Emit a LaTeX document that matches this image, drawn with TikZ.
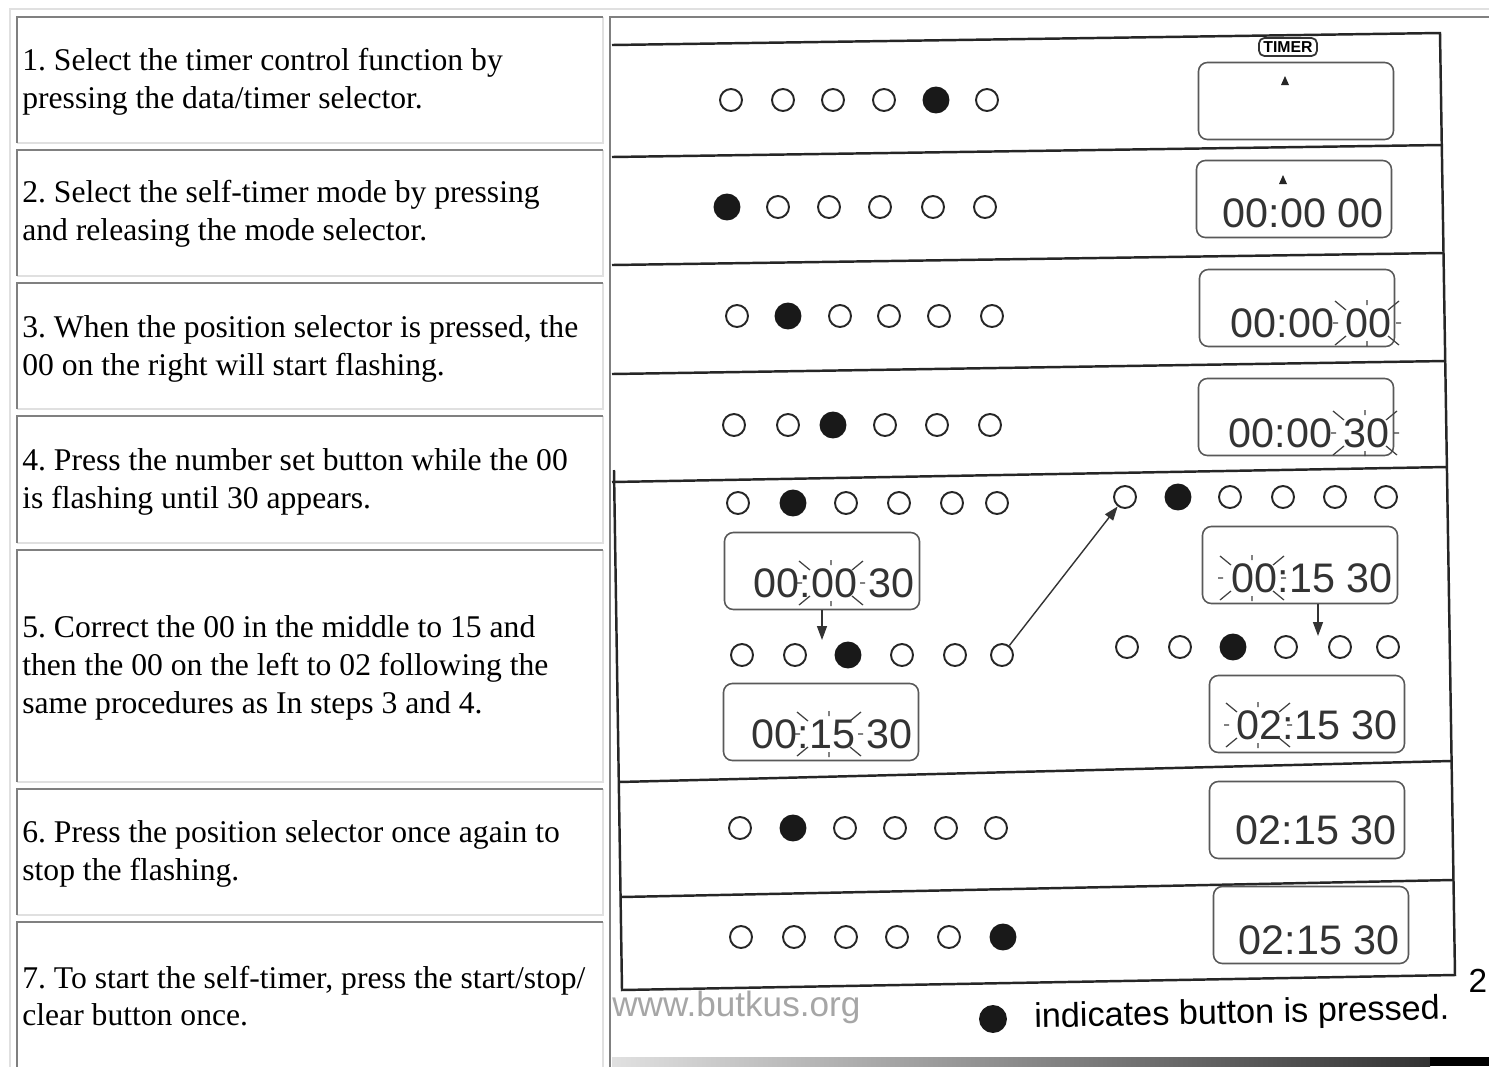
\documentclass[tikz,border=0pt]{standalone}
\usepackage{fontspec}
\setmainfont{Liberation Serif}
\newfontfamily\arialfont{Liberation Sans}
\usetikzlibrary{arrows.meta,positioning}
\frenchspacing

% html table cell: x1,y1,x2,y2 (pixel grid, y down)
\newcommand\htmlcell[4]{%
  \draw[celllo] (#1,#4) -- (#3,#4) -- (#3,#2);
  \draw[cellhi] (#1,#4) -- (#1,#2) -- (#3,#2);}

\tikzset{
  cellhi/.style={draw=black!50, line width=1.1pt},
  celllo/.style={draw=black!12, line width=1.1pt},
  steptext/.style={anchor=west, inner sep=0pt, align=left,
    font=\fontsize{18}{21.5}\selectfont},
  band/.style={line width=1.4pt, draw=black!85},
  btnoff/.style={circle, draw=black!85, line width=1.1pt, fill=white,
    minimum size=0.44cm, inner sep=0pt},
  btnon/.style={circle, draw=black!90, line width=1.1pt, fill=black!90,
    minimum size=0.5cm, inner sep=0pt},
  lcd/.style={draw=black!65, line width=0.9pt, rounded corners=5pt,
    minimum width=3.9cm, minimum height=1.54cm, inner sep=0pt},
  lcdtag/.style={draw=black!80, line width=1pt, rounded corners=3pt,
    inner xsep=2.5pt, inner ysep=2pt, font=\arialfont\bfseries\fontsize{9}{9}\selectfont},
  digits/.style={anchor=east, inner sep=0pt, text=black!80,
    font=\arialfont\fontsize{23.5}{24}\selectfont},
  ray/.style={line width=0.7pt, draw=black!75},
  arr/.style={line width=0.8pt, draw=black!80, -{Triangle[length=0.28cm,width=0.2cm]}},
  flash/.pic={
    \draw[ray] (-32,-22) -- (-21,-13) (32,-22) -- (21,-13)
               (-32,22) -- (-21,13) (32,22) -- (21,13)
               (0,-23) -- (0,-18) (0,18) -- (0,23)
               (-34,0) -- (-29,0) (29,0) -- (34,0);
  }
}

\begin{document}
\begin{tikzpicture}[x=0.02cm, y=-0.02cm]
\useasboundingbox (0,0) rectangle (1489,1066);
\fill[white] (0,0) rectangle (1489,1066);

% table frame and cells
\draw[celllo, line width=1.6pt] (10,1070) -- (10,9) -- (1495,9);
\htmlcell{17}{17}{603}{143}
\htmlcell{17}{150}{603}{276}
\htmlcell{17}{283}{603}{409}
\htmlcell{17}{416}{603}{543}
\htmlcell{17}{550}{603}{782}
\htmlcell{17}{789}{603}{915}
\htmlcell{17}{922}{603}{1075}
\htmlcell{610}{17}{1495}{1075}

% steps
\node[steptext] (step1) at (22,82) {1. Select the timer control function by\\pressing the data/timer selector.};
\node[steptext] (step2) at (22,214) {2. Select the self-timer mode by pressing\\and releasing the mode selector.};
\node[steptext] (step3) at (22,349) {3. When the position selector is pressed, the\\00 on the right will start flashing.};
\node[steptext] (step4) at (22,482) {4. Press the number set button while the 00\\is flashing until 30 appears.};
\node[steptext] (step5) at (22,668) {5. Correct the 00 in the middle to 15 and\\then the 00 on the left to 02 following the\\same procedures as In steps 3 and 4.};
\node[steptext] (step6) at (22,854) {6. Press the position selector once again to\\stop the flashing.};
\node[steptext] (step7) at (22,996) {7. To start the self-timer, press the start/stop/\\clear button once.};

% scanned sheet: frame and bands
\draw[band] (612,45) -- (1440,33) -- (1455,975) -- (622,990) -- (614,470);
\draw[band] (612,157) -- (1442,145);
\draw[band] (612,265) -- (1444,253);
\draw[band] (612,374) -- (1446,361);
\draw[band] (612,482) -- (1447,467);
\draw[band] (619,782) -- (1451,761);
\draw[band] (621,897) -- (1453,880);

% buttons
\foreach \x/\s [count=\i] in {731/btnoff,783/btnoff,833/btnoff,884/btnoff,936/btnon,987/btnoff}
  \node[\s] (r1c\i) at (\x,100) {};
\foreach \x/\s [count=\i] in {727/btnon,778/btnoff,829/btnoff,880/btnoff,933/btnoff,985/btnoff}
  \node[\s] (r2c\i) at (\x,207) {};
\foreach \x/\s [count=\i] in {737/btnoff,788/btnon,840/btnoff,889/btnoff,939/btnoff,992/btnoff}
  \node[\s] (r3c\i) at (\x,316) {};
\foreach \x/\s [count=\i] in {734/btnoff,788/btnoff,833/btnon,885/btnoff,937/btnoff,990/btnoff}
  \node[\s] (r4c\i) at (\x,425) {};
\foreach \x/\s [count=\i] in {738/btnoff,793/btnon,846/btnoff,899/btnoff,952/btnoff,997/btnoff}
  \node[\s] (r5a\i) at (\x,503) {};
\foreach \x/\s [count=\i] in {1125/btnoff,1178/btnon,1230/btnoff,1283/btnoff,1335/btnoff,1386/btnoff}
  \node[\s] (r5b\i) at (\x,497) {};
\foreach \x/\s [count=\i] in {742/btnoff,795/btnoff,848/btnon,902/btnoff,955/btnoff,1002/btnoff}
  \node[\s] (r5c\i) at (\x,655) {};
\foreach \x/\s [count=\i] in {1127/btnoff,1180/btnoff,1233/btnon,1286/btnoff,1340/btnoff,1388/btnoff}
  \node[\s] (r5d\i) at (\x,647) {};
\foreach \x/\s [count=\i] in {740/btnoff,793/btnon,845/btnoff,895/btnoff,946/btnoff,996/btnoff}
  \node[\s] (r6c\i) at (\x,828) {};
\foreach \x/\s [count=\i] in {741/btnoff,794/btnoff,846/btnoff,897/btnoff,949/btnoff,1003/btnon}
  \node[\s] (r7c\i) at (\x,937) {};

% displays
\node[lcd] (lcd1) at (1296,101) {};
\node[lcdtag] (tag1) at (1288,47) {TIMER};
\fill[black!85] (1285,76) -- (1281,85) -- (1289,85) -- cycle;

\node[lcd] (lcd2) at (1294,199) {};
\fill[black!85] (1283,175) -- (1279,184) -- (1287,184) -- cycle;
\node[digits] (d2) at (1384,213) {00:00 00};

\node[lcd] (lcd3) at (1297,308) {};
\node[digits] (d3) at (1392,323) {00:00 00};
\pic at (1367,323) {flash};

\node[lcd] (lcd4) at (1296,417) {};
\node[digits] (d4) at (1390,433) {00:00 30};
\pic at (1365,433) {flash};

\node[lcd] (lcd5a) at (822,571) {};
\node[digits] (d5a) at (915,583) {00:00 30};
\pic at (831,583) {flash};

\node[lcd] (lcd5c) at (821,722) {};
\node[digits] (d5c) at (913,734) {00:15 30};
\pic at (829,734) {flash};

\node[lcd] (lcd5b) at (1300,565) {};
\node[digits] (d5b) at (1393,578) {00:15 30};
\pic at (1252,578) {flash};

\node[lcd] (lcd5d) at (1307,714) {};
\node[digits] (d5d) at (1398,725) {02:15 30};
\pic at (1258,725) {flash};

\node[lcd] (lcd6) at (1307,820) {};
\node[digits] (d6) at (1397,830) {02:15 30};

\node[lcd] (lcd7) at (1311,925) {};
\node[digits] (d7) at (1400,940) {02:15 30};

% arrows
\coordinate (p5a) at (822,640);
\coordinate (p5b) at (1318,636);
\draw[arr] (lcd5a.south) -- (p5a);
\draw[arr] (lcd5b.south -| p5b) -- (p5b);
\draw[arr] (r5c6) -- (r5b1);

% footer
\node[anchor=west, inner sep=0pt, text=black!35,
  font=\arialfont\fontsize{20}{20}\selectfont] (web) at (612,1007) {www.butkus.org};
\node[btnon, minimum size=0.52cm] (key) at (993,1019) {};
\node[right=0.54cm of key, inner sep=0pt, rotate=1.2,
  font=\arialfont\fontsize{19.5}{20}\selectfont] (keytext) {indicates button is pressed.};
\node[inner sep=0pt, font=\arialfont\fontsize{19}{19}\selectfont] (pagenum) at (1478,981) {2};
\shade[left color=black!12, right color=black!80] (612,1057) rectangle (1430,1066);
\fill[black] (1430,1057) rectangle (1489,1066);
\end{tikzpicture}
\end{document}
